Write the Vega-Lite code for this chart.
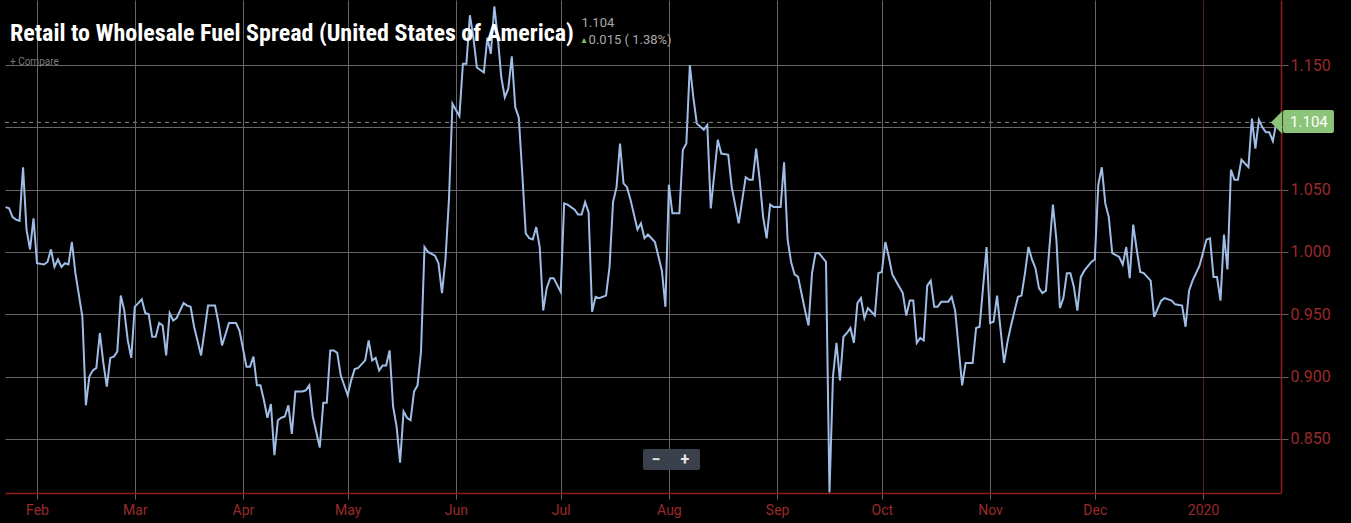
{
  "$schema": "https://vega.github.io/schema/vega-lite/v6.json",
  "width": 1276,
  "height": 493,
  "autosize": {"type": "none"},
  "padding": {"left": 5, "top": 0, "right": 70, "bottom": 30},
  "background": "#000000",
  "config": {"view": {"stroke": null}, "font": "Roboto"},
  "title": {
    "text": "Retail to Wholesale Fuel Spread (United States of America)",
    "subtitle": "+ Compare",
    "anchor": "start",
    "frame": "group",
    "orient": "top",
    "offset": -67,
    "dx": 5,
    "font": "Liberation Sans Narrow, Roboto Condensed, DejaVu Sans Condensed, Roboto",
    "fontSize": 24,
    "fontWeight": "bold",
    "color": "#ffffff",
    "subtitleFont": "Roboto",
    "subtitleFontSize": 10,
    "subtitleColor": "#7a7a7a",
    "subtitlePadding": 11
  },
  "layer": [
    {
      "data": {"name": "spread", "values": [
        {"date": "2019-01-23", "spread": 1.036},
        {"date": "2019-01-24", "spread": 1.035},
        {"date": "2019-01-25", "spread": 1.028},
        {"date": "2019-01-26", "spread": 1.026},
        {"date": "2019-01-27", "spread": 1.025},
        {"date": "2019-01-28", "spread": 1.068},
        {"date": "2019-01-29", "spread": 1.018},
        {"date": "2019-01-30", "spread": 1.002},
        {"date": "2019-01-31", "spread": 1.027},
        {"date": "2019-02-01", "spread": 0.991},
        {"date": "2019-02-03", "spread": 0.990},
        {"date": "2019-02-04", "spread": 0.992},
        {"date": "2019-02-05", "spread": 1.002},
        {"date": "2019-02-06", "spread": 0.988},
        {"date": "2019-02-07", "spread": 0.994},
        {"date": "2019-02-08", "spread": 0.988},
        {"date": "2019-02-09", "spread": 0.991},
        {"date": "2019-02-10", "spread": 0.990},
        {"date": "2019-02-11", "spread": 1.008},
        {"date": "2019-02-12", "spread": 0.983},
        {"date": "2019-02-14", "spread": 0.948},
        {"date": "2019-02-15", "spread": 0.877},
        {"date": "2019-02-16", "spread": 0.900},
        {"date": "2019-02-17", "spread": 0.905},
        {"date": "2019-02-18", "spread": 0.907},
        {"date": "2019-02-19", "spread": 0.935},
        {"date": "2019-02-20", "spread": 0.911},
        {"date": "2019-02-21", "spread": 0.892},
        {"date": "2019-02-22", "spread": 0.915},
        {"date": "2019-02-23", "spread": 0.916},
        {"date": "2019-02-24", "spread": 0.920},
        {"date": "2019-02-25", "spread": 0.965},
        {"date": "2019-02-26", "spread": 0.953},
        {"date": "2019-02-27", "spread": 0.929},
        {"date": "2019-02-28", "spread": 0.915},
        {"date": "2019-03-01", "spread": 0.956},
        {"date": "2019-03-02", "spread": 0.959},
        {"date": "2019-03-03", "spread": 0.962},
        {"date": "2019-03-04", "spread": 0.951},
        {"date": "2019-03-05", "spread": 0.950},
        {"date": "2019-03-06", "spread": 0.932},
        {"date": "2019-03-07", "spread": 0.932},
        {"date": "2019-03-08", "spread": 0.943},
        {"date": "2019-03-09", "spread": 0.941},
        {"date": "2019-03-10", "spread": 0.917},
        {"date": "2019-03-11", "spread": 0.951},
        {"date": "2019-03-12", "spread": 0.945},
        {"date": "2019-03-13", "spread": 0.947},
        {"date": "2019-03-15", "spread": 0.959},
        {"date": "2019-03-16", "spread": 0.957},
        {"date": "2019-03-17", "spread": 0.956},
        {"date": "2019-03-18", "spread": 0.940},
        {"date": "2019-03-20", "spread": 0.917},
        {"date": "2019-03-22", "spread": 0.957},
        {"date": "2019-03-24", "spread": 0.957},
        {"date": "2019-03-25", "spread": 0.943},
        {"date": "2019-03-26", "spread": 0.925},
        {"date": "2019-03-28", "spread": 0.943},
        {"date": "2019-03-30", "spread": 0.943},
        {"date": "2019-03-31", "spread": 0.937},
        {"date": "2019-04-02", "spread": 0.908},
        {"date": "2019-04-03", "spread": 0.908},
        {"date": "2019-04-04", "spread": 0.916},
        {"date": "2019-04-05", "spread": 0.893},
        {"date": "2019-04-06", "spread": 0.893},
        {"date": "2019-04-07", "spread": 0.881},
        {"date": "2019-04-08", "spread": 0.867},
        {"date": "2019-04-09", "spread": 0.878},
        {"date": "2019-04-10", "spread": 0.837},
        {"date": "2019-04-11", "spread": 0.865},
        {"date": "2019-04-12", "spread": 0.867},
        {"date": "2019-04-13", "spread": 0.868},
        {"date": "2019-04-14", "spread": 0.877},
        {"date": "2019-04-15", "spread": 0.854},
        {"date": "2019-04-16", "spread": 0.888},
        {"date": "2019-04-18", "spread": 0.888},
        {"date": "2019-04-19", "spread": 0.889},
        {"date": "2019-04-20", "spread": 0.893},
        {"date": "2019-04-21", "spread": 0.868},
        {"date": "2019-04-23", "spread": 0.843},
        {"date": "2019-04-24", "spread": 0.879},
        {"date": "2019-04-25", "spread": 0.879},
        {"date": "2019-04-26", "spread": 0.921},
        {"date": "2019-04-27", "spread": 0.921},
        {"date": "2019-04-28", "spread": 0.919},
        {"date": "2019-04-29", "spread": 0.901},
        {"date": "2019-05-01", "spread": 0.885},
        {"date": "2019-05-02", "spread": 0.897},
        {"date": "2019-05-03", "spread": 0.906},
        {"date": "2019-05-04", "spread": 0.907},
        {"date": "2019-05-06", "spread": 0.913},
        {"date": "2019-05-07", "spread": 0.929},
        {"date": "2019-05-08", "spread": 0.913},
        {"date": "2019-05-09", "spread": 0.915},
        {"date": "2019-05-10", "spread": 0.905},
        {"date": "2019-05-11", "spread": 0.909},
        {"date": "2019-05-12", "spread": 0.909},
        {"date": "2019-05-13", "spread": 0.921},
        {"date": "2019-05-14", "spread": 0.876},
        {"date": "2019-05-15", "spread": 0.860},
        {"date": "2019-05-16", "spread": 0.831},
        {"date": "2019-05-17", "spread": 0.872},
        {"date": "2019-05-18", "spread": 0.867},
        {"date": "2019-05-19", "spread": 0.865},
        {"date": "2019-05-20", "spread": 0.888},
        {"date": "2019-05-21", "spread": 0.893},
        {"date": "2019-05-22", "spread": 0.920},
        {"date": "2019-05-23", "spread": 1.004},
        {"date": "2019-05-24", "spread": 1.000},
        {"date": "2019-05-26", "spread": 0.997},
        {"date": "2019-05-27", "spread": 0.991},
        {"date": "2019-05-28", "spread": 0.967},
        {"date": "2019-05-29", "spread": 0.994},
        {"date": "2019-05-30", "spread": 1.042},
        {"date": "2019-05-31", "spread": 1.119},
        {"date": "2019-06-01", "spread": 1.114},
        {"date": "2019-06-02", "spread": 1.109},
        {"date": "2019-06-03", "spread": 1.151},
        {"date": "2019-06-04", "spread": 1.151},
        {"date": "2019-06-05", "spread": 1.190},
        {"date": "2019-06-06", "spread": 1.172},
        {"date": "2019-06-07", "spread": 1.148},
        {"date": "2019-06-09", "spread": 1.144},
        {"date": "2019-06-10", "spread": 1.172},
        {"date": "2019-06-11", "spread": 1.159},
        {"date": "2019-06-12", "spread": 1.197},
        {"date": "2019-06-13", "spread": 1.172},
        {"date": "2019-06-14", "spread": 1.140},
        {"date": "2019-06-15", "spread": 1.124},
        {"date": "2019-06-16", "spread": 1.131},
        {"date": "2019-06-17", "spread": 1.157},
        {"date": "2019-06-18", "spread": 1.116},
        {"date": "2019-06-19", "spread": 1.108},
        {"date": "2019-06-20", "spread": 1.063},
        {"date": "2019-06-21", "spread": 1.015},
        {"date": "2019-06-22", "spread": 1.011},
        {"date": "2019-06-23", "spread": 1.010},
        {"date": "2019-06-24", "spread": 1.020},
        {"date": "2019-06-25", "spread": 1.004},
        {"date": "2019-06-26", "spread": 0.953},
        {"date": "2019-06-27", "spread": 0.971},
        {"date": "2019-06-28", "spread": 0.979},
        {"date": "2019-06-29", "spread": 0.979},
        {"date": "2019-07-01", "spread": 0.968},
        {"date": "2019-07-02", "spread": 1.039},
        {"date": "2019-07-03", "spread": 1.038},
        {"date": "2019-07-05", "spread": 1.034},
        {"date": "2019-07-06", "spread": 1.030},
        {"date": "2019-07-07", "spread": 1.030},
        {"date": "2019-07-08", "spread": 1.040},
        {"date": "2019-07-09", "spread": 1.032},
        {"date": "2019-07-10", "spread": 0.952},
        {"date": "2019-07-11", "spread": 0.964},
        {"date": "2019-07-12", "spread": 0.963},
        {"date": "2019-07-14", "spread": 0.965},
        {"date": "2019-07-15", "spread": 0.988},
        {"date": "2019-07-16", "spread": 1.040},
        {"date": "2019-07-17", "spread": 1.052},
        {"date": "2019-07-18", "spread": 1.087},
        {"date": "2019-07-19", "spread": 1.055},
        {"date": "2019-07-20", "spread": 1.052},
        {"date": "2019-07-21", "spread": 1.042},
        {"date": "2019-07-23", "spread": 1.018},
        {"date": "2019-07-24", "spread": 1.023},
        {"date": "2019-07-25", "spread": 1.011},
        {"date": "2019-07-26", "spread": 1.014},
        {"date": "2019-07-27", "spread": 1.011},
        {"date": "2019-07-28", "spread": 1.008},
        {"date": "2019-07-30", "spread": 0.985},
        {"date": "2019-07-31", "spread": 0.956},
        {"date": "2019-08-01", "spread": 1.054},
        {"date": "2019-08-02", "spread": 1.031},
        {"date": "2019-08-04", "spread": 1.031},
        {"date": "2019-08-05", "spread": 1.082},
        {"date": "2019-08-06", "spread": 1.087},
        {"date": "2019-08-07", "spread": 1.150},
        {"date": "2019-08-08", "spread": 1.124},
        {"date": "2019-08-09", "spread": 1.103},
        {"date": "2019-08-11", "spread": 1.098},
        {"date": "2019-08-12", "spread": 1.102},
        {"date": "2019-08-13", "spread": 1.035},
        {"date": "2019-08-15", "spread": 1.090},
        {"date": "2019-08-16", "spread": 1.079},
        {"date": "2019-08-18", "spread": 1.078},
        {"date": "2019-08-19", "spread": 1.052},
        {"date": "2019-08-21", "spread": 1.023},
        {"date": "2019-08-23", "spread": 1.060},
        {"date": "2019-08-24", "spread": 1.058},
        {"date": "2019-08-25", "spread": 1.058},
        {"date": "2019-08-26", "spread": 1.083},
        {"date": "2019-08-27", "spread": 1.058},
        {"date": "2019-08-28", "spread": 1.028},
        {"date": "2019-08-29", "spread": 1.011},
        {"date": "2019-08-30", "spread": 1.038},
        {"date": "2019-08-31", "spread": 1.036},
        {"date": "2019-09-02", "spread": 1.036},
        {"date": "2019-09-03", "spread": 1.072},
        {"date": "2019-09-04", "spread": 1.010},
        {"date": "2019-09-05", "spread": 0.992},
        {"date": "2019-09-06", "spread": 0.982},
        {"date": "2019-09-07", "spread": 0.980},
        {"date": "2019-09-09", "spread": 0.953},
        {"date": "2019-09-10", "spread": 0.941},
        {"date": "2019-09-11", "spread": 0.983},
        {"date": "2019-09-12", "spread": 0.999},
        {"date": "2019-09-13", "spread": 0.999},
        {"date": "2019-09-15", "spread": 0.992},
        {"date": "2019-09-16", "spread": 0.807},
        {"date": "2019-09-17", "spread": 0.900},
        {"date": "2019-09-18", "spread": 0.927},
        {"date": "2019-09-19", "spread": 0.897},
        {"date": "2019-09-20", "spread": 0.932},
        {"date": "2019-09-21", "spread": 0.935},
        {"date": "2019-09-22", "spread": 0.939},
        {"date": "2019-09-23", "spread": 0.927},
        {"date": "2019-09-24", "spread": 0.959},
        {"date": "2019-09-25", "spread": 0.963},
        {"date": "2019-09-26", "spread": 0.947},
        {"date": "2019-09-27", "spread": 0.955},
        {"date": "2019-09-28", "spread": 0.952},
        {"date": "2019-09-29", "spread": 0.949},
        {"date": "2019-09-30", "spread": 0.983},
        {"date": "2019-10-01", "spread": 0.984},
        {"date": "2019-10-02", "spread": 1.008},
        {"date": "2019-10-03", "spread": 0.996},
        {"date": "2019-10-04", "spread": 0.982},
        {"date": "2019-10-05", "spread": 0.977},
        {"date": "2019-10-07", "spread": 0.967},
        {"date": "2019-10-08", "spread": 0.949},
        {"date": "2019-10-09", "spread": 0.961},
        {"date": "2019-10-10", "spread": 0.961},
        {"date": "2019-10-11", "spread": 0.927},
        {"date": "2019-10-12", "spread": 0.931},
        {"date": "2019-10-13", "spread": 0.929},
        {"date": "2019-10-14", "spread": 0.973},
        {"date": "2019-10-15", "spread": 0.977},
        {"date": "2019-10-16", "spread": 0.956},
        {"date": "2019-10-17", "spread": 0.956},
        {"date": "2019-10-18", "spread": 0.960},
        {"date": "2019-10-20", "spread": 0.960},
        {"date": "2019-10-21", "spread": 0.964},
        {"date": "2019-10-22", "spread": 0.953},
        {"date": "2019-10-24", "spread": 0.893},
        {"date": "2019-10-25", "spread": 0.911},
        {"date": "2019-10-27", "spread": 0.911},
        {"date": "2019-10-28", "spread": 0.939},
        {"date": "2019-10-29", "spread": 0.940},
        {"date": "2019-10-31", "spread": 1.004},
        {"date": "2019-11-01", "spread": 0.943},
        {"date": "2019-11-02", "spread": 0.944},
        {"date": "2019-11-03", "spread": 0.965},
        {"date": "2019-11-05", "spread": 0.911},
        {"date": "2019-11-06", "spread": 0.928},
        {"date": "2019-11-07", "spread": 0.941},
        {"date": "2019-11-09", "spread": 0.964},
        {"date": "2019-11-10", "spread": 0.965},
        {"date": "2019-11-11", "spread": 0.983},
        {"date": "2019-11-12", "spread": 1.004},
        {"date": "2019-11-13", "spread": 0.994},
        {"date": "2019-11-14", "spread": 0.987},
        {"date": "2019-11-15", "spread": 0.971},
        {"date": "2019-11-16", "spread": 0.967},
        {"date": "2019-11-17", "spread": 0.969},
        {"date": "2019-11-19", "spread": 1.038},
        {"date": "2019-11-20", "spread": 1.010},
        {"date": "2019-11-21", "spread": 0.955},
        {"date": "2019-11-22", "spread": 0.963},
        {"date": "2019-11-23", "spread": 0.983},
        {"date": "2019-11-24", "spread": 0.983},
        {"date": "2019-11-25", "spread": 0.972},
        {"date": "2019-11-26", "spread": 0.953},
        {"date": "2019-11-27", "spread": 0.980},
        {"date": "2019-11-28", "spread": 0.985},
        {"date": "2019-11-30", "spread": 0.992},
        {"date": "2019-12-01", "spread": 0.994},
        {"date": "2019-12-02", "spread": 1.054},
        {"date": "2019-12-03", "spread": 1.068},
        {"date": "2019-12-04", "spread": 1.039},
        {"date": "2019-12-05", "spread": 1.028},
        {"date": "2019-12-06", "spread": 0.999},
        {"date": "2019-12-08", "spread": 0.996},
        {"date": "2019-12-09", "spread": 0.990},
        {"date": "2019-12-10", "spread": 1.004},
        {"date": "2019-12-11", "spread": 0.979},
        {"date": "2019-12-12", "spread": 1.022},
        {"date": "2019-12-13", "spread": 1.002},
        {"date": "2019-12-14", "spread": 0.984},
        {"date": "2019-12-15", "spread": 0.983},
        {"date": "2019-12-17", "spread": 0.977},
        {"date": "2019-12-18", "spread": 0.948},
        {"date": "2019-12-20", "spread": 0.961},
        {"date": "2019-12-21", "spread": 0.963},
        {"date": "2019-12-23", "spread": 0.961},
        {"date": "2019-12-24", "spread": 0.958},
        {"date": "2019-12-26", "spread": 0.957},
        {"date": "2019-12-27", "spread": 0.940},
        {"date": "2019-12-28", "spread": 0.969},
        {"date": "2019-12-29", "spread": 0.977},
        {"date": "2019-12-31", "spread": 0.989},
        {"date": "2020-01-02", "spread": 1.010},
        {"date": "2020-01-03", "spread": 1.011},
        {"date": "2020-01-04", "spread": 0.980},
        {"date": "2020-01-05", "spread": 0.980},
        {"date": "2020-01-06", "spread": 0.961},
        {"date": "2020-01-07", "spread": 1.014},
        {"date": "2020-01-08", "spread": 0.986},
        {"date": "2020-01-09", "spread": 1.066},
        {"date": "2020-01-10", "spread": 1.058},
        {"date": "2020-01-11", "spread": 1.058},
        {"date": "2020-01-12", "spread": 1.074},
        {"date": "2020-01-14", "spread": 1.068},
        {"date": "2020-01-15", "spread": 1.107},
        {"date": "2020-01-16", "spread": 1.083},
        {"date": "2020-01-17", "spread": 1.106},
        {"date": "2020-01-18", "spread": 1.100},
        {"date": "2020-01-19", "spread": 1.096},
        {"date": "2020-01-20", "spread": 1.096},
        {"date": "2020-01-21", "spread": 1.089},
        {"date": "2020-01-22", "spread": 1.104}
      ]},
      "mark": {"type": "line", "color": "#9fbde6", "strokeWidth": 2, "strokeJoin": "miter"},
      "encoding": {
        "x": {
          "field": "date",
          "type": "temporal",
          "scale": {
            "type": "utc",
            "domain": [
              {"year": 2019, "month": 1, "date": 22, "hours": 20, "utc": true},
              {"year": 2020, "month": 1, "date": 23, "hours": 8, "utc": true}
            ]
          },
          "axis": {
            "title": null,
            "values": [
              {"year": 2019, "month": 2, "date": 1, "utc": true},
              {"year": 2019, "month": 3, "date": 1, "utc": true},
              {"year": 2019, "month": 4, "date": 1, "utc": true},
              {"year": 2019, "month": 5, "date": 1, "utc": true},
              {"year": 2019, "month": 6, "date": 1, "utc": true},
              {"year": 2019, "month": 7, "date": 1, "utc": true},
              {"year": 2019, "month": 8, "date": 1, "utc": true},
              {"year": 2019, "month": 9, "date": 1, "utc": true},
              {"year": 2019, "month": 10, "date": 1, "utc": true},
              {"year": 2019, "month": 11, "date": 1, "utc": true},
              {"year": 2019, "month": 12, "date": 1, "utc": true},
              {"year": 2020, "month": 1, "date": 1, "utc": true}
            ],
            "labelExpr": "utcmonth(datum.value) === 0 ? utcFormat(datum.value, '%Y') : utcFormat(datum.value, '%b')",
            "grid": true,
            "gridColor": {"condition": {"test": "utcmonth(datum.value) === 0", "value": "#5c1c1c"}, "value": "#666666"},
            "gridWidth": 1,
            "domainColor": "#8e1e1e",
            "domainWidth": 1.5,
            "tickColor": "#666666",
            "tickSize": 6,
            "labelColor": "#9a2a2a",
            "labelFont": "Roboto",
            "labelFontSize": 14,
            "labelPadding": 4
          }
        },
        "y": {
          "field": "spread",
          "type": "quantitative",
          "scale": {"domain": [0.8066, 1.2022], "nice": false, "zero": false},
          "axis": {
            "title": null,
            "orient": "right",
            "values": [0.85, 0.9, 0.95, 1.0, 1.05, 1.1, 1.15],
            "labelExpr": "abs(datum.value - 1.1) < 0.001 ? '' : format(datum.value, '.3f')",
            "grid": true,
            "gridColor": "#666666",
            "gridWidth": 1,
            "domainColor": "#8e1e1e",
            "domainWidth": 1.5,
            "tickColor": "#666666",
            "tickSize": 7,
            "labelColor": "#9a2a2a",
            "labelFont": "Roboto",
            "labelFontSize": 16,
            "labelPadding": 2
          }
        }
      }
    },
    {
      "data": {"values": [{"last": 1.104}]},
      "mark": {"type": "rule", "color": "#8a8a8a", "strokeWidth": 1, "strokeDash": [4, 4]},
      "encoding": {"y": {"field": "last", "type": "quantitative"}}
    },
    {
      "data": {"values": [{"last": 1.104}]},
      "mark": {"type": "rect", "color": "#8cc47a", "cornerRadius": 2},
      "encoding": {
        "x": {"datum": {"year": 2020, "month": 1, "date": 23, "hours": 22, "utc": true}, "type": "temporal"},
        "x2": {"datum": {"year": 2020, "month": 2, "date": 7, "hours": 12, "utc": true}},
        "y": {"datum": 1.114, "type": "quantitative"},
        "y2": {"datum": 1.0955}
      }
    },
    {
      "data": {"values": [{"last": 1.104}]},
      "mark": {"type": "point", "shape": "M0,0L1,-1L1,1Z", "filled": true, "color": "#8cc47a", "opacity": 1, "size": 529},
      "encoding": {
        "x": {"datum": {"year": 2020, "month": 1, "date": 20, "hours": 10, "utc": true}, "type": "temporal"},
        "y": {"field": "last", "type": "quantitative"}
      }
    },
    {
      "data": {"values": [{"last": 1.104}]},
      "mark": {"type": "text", "color": "#ffffff", "font": "Roboto", "fontSize": 15, "align": "center", "baseline": "middle"},
      "encoding": {
        "x": {"datum": {"year": 2020, "month": 1, "date": 31, "hours": 8, "utc": true}, "type": "temporal"},
        "y": {"field": "last", "type": "quantitative"},
        "text": {"field": "last", "type": "quantitative", "format": ".3f"}
      }
    },
    {
      "data": {"values": [{"label": "1.104"}]},
      "mark": {"type": "text", "color": "#a9a9a9", "font": "Roboto", "fontSize": 13, "align": "left", "baseline": "middle"},
      "encoding": {
        "x": {"datum": {"year": 2019, "month": 7, "date": 7, "utc": true}, "type": "temporal"},
        "y": {"datum": 1.184, "type": "quantitative"},
        "text": {"field": "label"}
      }
    },
    {
      "data": {"values": [{"label": "\u25b4"}]},
      "mark": {"type": "text", "color": "#7fc060", "font": "DejaVu Sans", "fontSize": 10, "align": "left", "baseline": "middle"},
      "encoding": {
        "x": {"datum": {"year": 2019, "month": 7, "date": 7, "utc": true}, "type": "temporal"},
        "y": {"datum": 1.1705, "type": "quantitative"},
        "text": {"field": "label"}
      }
    },
    {
      "data": {"values": [{"label": "0.015 ( 1.38%)"}]},
      "mark": {"type": "text", "color": "#a9a9a9", "font": "Roboto", "fontSize": 13, "align": "left", "baseline": "middle"},
      "encoding": {
        "x": {"datum": {"year": 2019, "month": 7, "date": 9, "utc": true}, "type": "temporal"},
        "y": {"datum": 1.1705, "type": "quantitative"},
        "text": {"field": "label"}
      }
    },
    {
      "data": {"values": [{"label": "zoom"}]},
      "mark": {"type": "rect", "color": "#3a414c", "cornerRadius": 2},
      "encoding": {
        "x": {"datum": {"year": 2019, "month": 7, "date": 24, "hours": 14, "utc": true}, "type": "temporal"},
        "x2": {"datum": {"year": 2019, "month": 8, "date": 9, "hours": 22, "utc": true}},
        "y": {"datum": 0.8419, "type": "quantitative"},
        "y2": {"datum": 0.8250}
      }
    },
    {
      "data": {"values": [{"label": "\u2212"}]},
      "mark": {"type": "text", "color": "#e8e8e8", "font": "Roboto", "fontSize": 16, "fontWeight": "bold", "align": "center", "baseline": "middle"},
      "encoding": {
        "x": {"datum": {"year": 2019, "month": 7, "date": 28, "hours": 7, "utc": true}, "type": "temporal"},
        "y": {"datum": 0.8334, "type": "quantitative"},
        "text": {"field": "label"}
      }
    },
    {
      "data": {"values": [{"label": "+"}]},
      "mark": {"type": "text", "color": "#e8e8e8", "font": "Roboto", "fontSize": 16, "fontWeight": "bold", "align": "center", "baseline": "middle"},
      "encoding": {
        "x": {"datum": {"year": 2019, "month": 8, "date": 5, "hours": 14, "utc": true}, "type": "temporal"},
        "y": {"datum": 0.8334, "type": "quantitative"},
        "text": {"field": "label"}
      }
    }
  ]
}
